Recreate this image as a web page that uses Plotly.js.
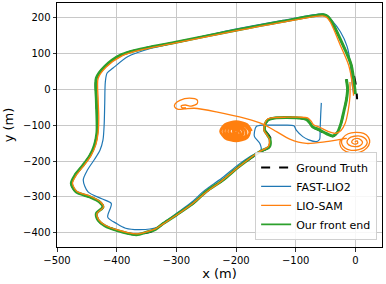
<!DOCTYPE html>
<html>
<head>
<meta charset="utf-8">
<script src="https://cdn.plot.ly/plotly-3.0.1.min.js"></script>
<style>
  html, body { margin: 0; padding: 0; background: #fff; }
  #plot { width: 386px; height: 284px; }
</style>
</head>
<body>
<div id="plot"></div>
<script>
// Trajectories, in metres: [x, y] pairs
const groundTruth = [
  [-15, 28], [-13, 0], [-15, -30], [-19, -60], [-24, -95], [-30, -120], [-37, -131], [-48, -125],
  [-62, -113], [-72, -105], [-76, -94], [-82, -84], [-95, -80], [-115, -79], [-135, -80], [-146, -85],
  [-150, -96], [-151, -115], [-145, -128], [-141, -142], [-143, -160], [-159, -174], [-194, -214],
  [-222, -253], [-250, -285], [-272, -318], [-300, -350], [-322, -374], [-335, -391], [-350, -400],
  [-368, -405], [-400, -393], [-420, -380], [-431, -365], [-434, -346], [-423, -328], [-428, -315],
  [-445, -300], [-468, -286], [-476, -262], [-470, -240], [-458, -215], [-445, -185], [-437, -155],
  [-433, -120], [-433, -80], [-434, -30], [-434, 31], [-420, 63], [-392, 96], [-364, 110], [-303, 130],
  [-205, 163], [-121, 189], [-54, 207], [-47, 203], [-40, 189], [-21, 124], [-7, 68], [0, 20], [2, -5], [3, -28]
];

const fastLio2 = [
  [-57, -38], [-58, -70], [-59, -110], [-60, -140], [-65, -146], [-78, -141], [-88, -132], [-99, -114],
  [-103, -102], [-120, -100], [-140, -100], [-155, -100], [-166, -104], [-169, -118], [-169, -132],
  [-160, -151], [-158, -169], [-175, -186], [-196, -210], [-224, -248], [-252, -281], [-274, -314],
  [-300, -346], [-320, -370], [-333, -385], [-361, -391], [-385, -387], [-400, -374], [-415, -356],
  [-409, -318], [-425, -305], [-448, -286], [-456, -253], [-449, -225], [-437, -195], [-428, -170],
  [-423, -142], [-421, -100], [-420, -40], [-419, 20], [-416, 45], [-406, 59], [-381, 91], [-342, 114],
  [-303, 129], [-205, 166], [-121, 192], [-55, 210], [-48, 206], [-40, 193], [-25, 160], [-14, 120],
  [-9, 80], [-7, 45], [-5, 10], [-3, -10]
];

const lioSam = [
  [-9, 20], [-9, -20], [-12, -60], [-17, -95], [-24, -115], [-33, -123], [-45, -118], [-60, -106],
  [-70, -99], [-74, -89], [-80, -80], [-95, -78], [-115, -78], [-135, -79], [-147, -83], [-152, -96],
  [-153, -115], [-148, -128], [-144, -140], [-146, -160], [-162, -175], [-195, -216], [-223, -254],
  [-250, -287], [-273, -319], [-300, -351], [-322, -375], [-335, -389], [-350, -397], [-367, -403],
  [-400, -391], [-420, -378], [-430, -364], [-433, -346], [-422, -328], [-427, -314], [-444, -298],
  [-467, -284], [-474, -262], [-468, -240], [-456, -215], [-443, -185], [-435, -155], [-431, -120],
  [-430, -80], [-431, -30], [-431, 30], [-418, 61], [-391, 93], [-363, 108], [-303, 128], [-205, 161],
  [-121, 187], [-55, 204], [-48, 200], [-42, 187], [-25, 122], [-11, 66], [-4, 3], [-3, -18]
];

// LIO-SAM drift: spiral near (0, -147), line back west, small curl near (-290, -45)
const lioSamDrift = [
  [-1, -147], [3, -144], [4, -150], [-1, -153], [-6, -148], [-4, -141], [3, -137], [10, -142],
  [12, -149], [8, -157], [-1, -160], [-11, -155], [-14, -147], [-11, -137], [-2, -131], [10, -131],
  [17, -138], [20, -148], [16, -160], [6, -168], [-7, -170], [-18, -163], [-23, -150], [-21, -136],
  [-12, -124], [0, -120], [14, -123], [22, -134], [24, -148], [19, -164], [8, -175], [-8, -177],
  [-21, -168], [-26, -152], [-24, -140], [-15, -137], [-49, -146], [-82, -151], [-110, -139],
  [-132, -118], [-155, -97], [-183, -82], [-233, -63], [-270, -53], [-286, -55], [-297, -56],
  [-303, -49], [-302, -41], [-294, -31], [-278, -25], [-265, -30], [-265, -40], [-275, -47],
  [-285, -44], [-292, -47], [-290, -52], [-284, -51]
];

// LIO-SAM dense spiral near (-200, -117)
const lioSamBlob = [
  [-174, -117], [-182, -98], [-200, -90], [-218, -98], [-226, -117], [-218, -136], [-200, -144], [-182, -136],
  [-177, -119], [-185, -102], [-200, -96], [-215, -102], [-221, -117], [-215, -132], [-200, -138], [-185, -132],
  [-183, -119], [-189, -106], [-200, -102], [-211, -106], [-216, -117], [-211, -128], [-200, -132], [-189, -128],
  [-188, -119], [-192, -110], [-200, -107], [-208, -110], [-211, -117], [-208, -124], [-200, -127], [-192, -124],
  [-194, -118], [-196, -114], [-200, -113], [-204, -114], [-205, -117], [-204, -120], [-200, -121], [-196, -120]
];

const ourFrontEnd = [
  [-15, 28], [-13, 0], [-15, -30], [-19, -60], [-24, -95], [-30, -120], [-38, -130], [-48, -124],
  [-62, -112], [-72, -104], [-76, -94], [-82, -84], [-95, -80], [-115, -79], [-135, -80], [-146, -85],
  [-151, -96], [-152, -115], [-147, -128], [-143, -140], [-144, -160], [-160, -174], [-194, -214],
  [-222, -253], [-250, -285], [-272, -318], [-300, -350], [-322, -374], [-335, -390], [-350, -398],
  [-367, -405], [-400, -393], [-420, -380], [-431, -365], [-434, -346], [-423, -328], [-428, -315],
  [-445, -300], [-468, -286], [-476, -262], [-470, -240], [-458, -215], [-445, -185], [-437, -155],
  [-433, -120], [-433, -80], [-434, -30], [-434, 31], [-420, 63], [-392, 96], [-364, 110], [-303, 130],
  [-205, 163], [-121, 189], [-54, 207], [-47, 203], [-40, 189], [-21, 124], [-7, 68], [-1, 3], [0, -14]
];

const xTicks = [-500, -400, -300, -200, -100, 0];
const yTicks = [-400, -300, -200, -100, 0, 100, 200];

const xs = (pts) => pts.map((p) => p[0]);
const ys = (pts) => pts.map((p) => p[1]);

const font = "DejaVu Sans, sans-serif";

function path(pts, name, color, width, rank, extra = {}) {
  return Object.assign({
    x: xs(pts),
    y: ys(pts),
    name: name,
    type: "scatter",
    mode: "lines",
    line: { color: color, width: width, shape: "spline", smoothing: 0.8 },
    legendrank: rank,
    hoverinfo: "skip",
  }, extra);
}

const data = [
  path(groundTruth, "Ground Truth", "#000000", 2, 1, { line: { color: "#000000", width: 2, dash: "dash", shape: "spline", smoothing: 0.8 } }),
  path(fastLio2, "FAST-LIO2", "#1f77b4", 1.2, 2),
  path(ourFrontEnd, "Our front end", "#2ca02c", 3, 4, { showlegend: false }),
  path(lioSam, "LIO-SAM", "#ff7f0e", 1.3, 3),
  path(lioSamDrift, "LIO-SAM", "#ff7f0e", 1.3, 3, { showlegend: false }),
  path(lioSamBlob, "LIO-SAM", "#ff7f0e", 2.6, 3, { showlegend: false }),
  // legend entry for the green trace with a normal line width
  { x: [null], y: [null], name: "Our front end", type: "scatter", mode: "lines",
    line: { color: "#2ca02c", width: 1.8 }, legendrank: 4, hoverinfo: "skip" },
];

const axisCommon = {
  showline: true,
  linecolor: "#000",
  linewidth: 1,
  mirror: true,
  ticks: "outside",
  ticklen: 3.5,
  tickwidth: 0.8,
  tickcolor: "#000",
  showgrid: true,
  gridcolor: "#c8c8c8",
  gridwidth: 1,
  zeroline: false,
  tickfont: { family: font, size: 10, color: "#000" },
};

const layout = {
  width: 386,
  height: 284,
  margin: { l: 57, r: 4, t: 3, b: 37 },
  paper_bgcolor: "#fff",
  plot_bgcolor: "#fff",
  showlegend: true,
  xaxis: Object.assign({}, axisCommon, {
    range: [-500, 44.7],
    tickvals: xTicks,
    title: { text: "x (m)", font: { family: font, size: 13, color: "#000" }, standoff: 4 },
  }),
  yaxis: Object.assign({}, axisCommon, {
    range: [-439.3, 240],
    tickvals: yTicks,
    title: { text: "y (m)", font: { family: font, size: 13, color: "#000" }, standoff: 6 },
  }),
  legend: {
    x: 0.985,
    y: 0.029,
    xanchor: "right",
    yanchor: "bottom",
    bgcolor: "rgba(255,255,255,0.85)",
    bordercolor: "#d0d0d0",
    borderwidth: 1,
    font: { family: font, size: 11, color: "#000" },
    tracegroupgap: 0,
  },
};

Plotly.newPlot("plot", data, layout, { displayModeBar: false, staticPlot: true });
</script>
</body>
</html>
